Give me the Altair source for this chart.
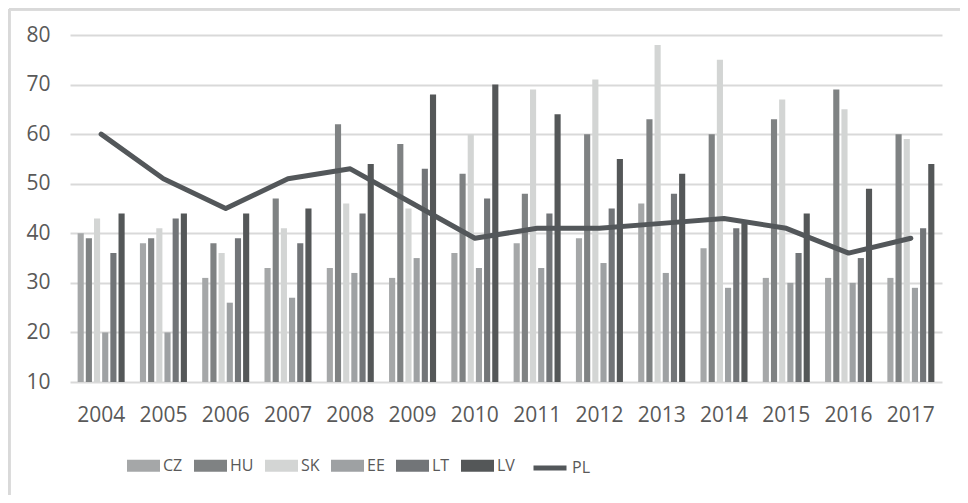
import altair as alt
import pandas as pd

years = [str(y) for y in range(2004, 2018)]
countries = ["CZ", "HU", "SK", "EE", "LT", "LV"]
CZ = [40, 38, 31, 33, 33, 31, 36, 38, 39, 46, 37, 31, 31, 31]
HU = [39, 39, 38, 47, 62, 58, 52, 48, 60, 63, 60, 63, 69, 60]
SK = [43, 41, 36, 41, 46, 45, 60, 69, 71, 78, 75, 67, 65, 59]
EE = [20, 20, 26, 27, 32, 35, 33, 33, 34, 32, 29, 30, 30, 29]
LT = [36, 43, 39, 38, 44, 53, 47, 44, 45, 48, 41, 36, 35, 41]
LV = [44, 44, 44, 45, 54, 68, 70, 64, 55, 52, 42, 44, 49, 54]
PL = [60, 51, 45, 51, 53, 46, 39, 41, 41, 42, 43, 41, 36, 39]

series = {"CZ": CZ, "HU": HU, "SK": SK, "EE": EE, "LT": LT, "LV": LV, "PL": PL}
rows = []
for name, vals in series.items():
    for y, v in zip(years, vals):
        rows.append({"year": y, "country": name, "value": v})
df = pd.DataFrame(rows)

bar_colors = ["#a5a7a8", "#7f8283", "#d3d5d4", "#9ea1a3", "#727578", "#545758"]
pl_color = "#53575a"

FONT = "Open Sans"
TXT = "#595959"

bar_legend = alt.Legend(
    title=None,
    orient="none",
    legendX=57,
    legendY=414,
    direction="horizontal",
    columns=6,
    columnPadding=11,
    labelOffset=3,
    labelFont=FONT,
    labelFontSize=16,
    labelColor=TXT,
    symbolSize=1089,
    symbolType="M-1,-0.36H1V0.36H-1Z",
    symbolStrokeWidth=0,
)

line_legend = alt.Legend(
    title=None,
    orient="none",
    legendX=461,
    legendY=414,
    direction="horizontal",
    labelOffset=3,
    labelFont=FONT,
    labelFontSize=16,
    labelColor=TXT,
    symbolSize=1089,
    symbolType="stroke",
    symbolStrokeWidth=5,
)

x_enc = alt.X(
    "year:N",
    sort=years,
    scale=alt.Scale(paddingInner=0.245, paddingOuter=0.1225),
    axis=alt.Axis(
        title=None,
        labelAngle=0,
        ticks=False,
        tickSize=0,
        domain=False,
        grid=False,
        labelFont=FONT,
        labelFontSize=21,
        labelColor=TXT,
        labelPadding=22,
    ),
)

y_enc = alt.Y(
    "value:Q",
    scale=alt.Scale(domain=[10, 80], nice=False, zero=False),
    axis=alt.Axis(
        title=None,
        values=[10, 20, 30, 40, 50, 60, 70, 80],
        ticks=False,
        tickSize=0,
        domain=False,
        grid=True,
        gridColor="#d9d9d9",
        gridWidth=1.8,
        labelFont=FONT,
        labelFontSize=21,
        labelColor=TXT,
        labelPadding=20,
    ),
)

bars = (
    alt.Chart(df)
    .transform_filter(alt.datum.country != "PL")
    .mark_bar()
    .encode(
        x=x_enc,
        xOffset=alt.XOffset(
            "country:N",
            sort=countries,
            scale=alt.Scale(domain=countries, paddingInner=0.25, paddingOuter=0),
        ),
        y=y_enc,
        y2=alt.datum(10),
        color=alt.Color(
            "country:N",
            scale=alt.Scale(domain=countries, range=bar_colors),
            legend=bar_legend,
        ),
    )
)

line = (
    alt.Chart(df)
    .transform_filter(alt.datum.country == "PL")
    .mark_line(strokeWidth=5, strokeCap="round", strokeJoin="round")
    .encode(
        x=alt.X("year:N", sort=years),
        y=alt.Y("value:Q"),
        stroke=alt.Stroke(
            "country:N",
            scale=alt.Scale(domain=["PL"], range=[pl_color]),
            legend=line_legend,
        ),
    )
)

border_left = alt.Chart(df).mark_rule(color="#d9d9d9", strokeWidth=2.5).encode(
    x=alt.value(-61), y=alt.value(-26), y2=alt.value(460)
)
border_top = alt.Chart(df).mark_rule(color="#d9d9d9", strokeWidth=2.5).encode(
    x=alt.value(-61), x2=alt.value(900), y=alt.value(-26)
)

chart = (
    alt.layer(bars, line, border_left, border_top)
    .resolve_scale(color="independent", stroke="independent")
    .properties(
        width=872,
        height=347,
        autosize=alt.AutoSizeParams(type="none"),
        padding={"left": 62, "top": 27, "right": 18, "bottom": 113},
    )
    .configure(background="white")
    .configure_view(stroke="transparent", strokeWidth=0)
)

chart.save("out.html", embed_options={"renderer": "svg", "actions": False})
